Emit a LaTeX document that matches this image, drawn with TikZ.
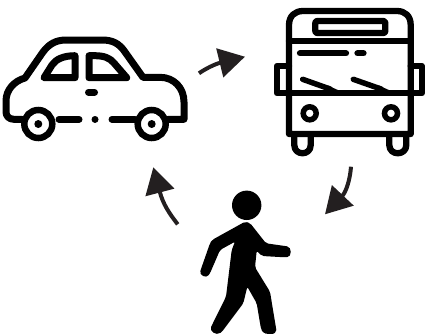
\documentclass[tikz,border=0pt]{standalone}
\usetikzlibrary{arrows.meta}
\definecolor{ink}{HTML}{000000}
\definecolor{flow}{HTML}{231F20}

\begin{document}
\begin{tikzpicture}[
    x=1pt, y=-1pt,
    icon/.style={draw=ink, line width=7pt, line cap=round, line join=round},
    busline/.style={draw=ink, line width=6.3pt, line cap=round, line join=round},
    wheel/.style={draw=ink, fill=white, line width=6.5pt},
    lamp/.style={draw=ink, fill=white, line width=5.5pt},
    solid ink/.style={fill=ink, draw=none},
    flowarrow/.style={-{Triangle[length=26pt, width=29pt]}, draw=flow, line width=4pt},
  ]
  \useasboundingbox (0,0) rectangle (427,333);

  % the car
  \draw[icon] (22,119.3) -- (14,119.3) .. controls (9,119.3) and (6,116) .. (6,112)
        -- (6,101) .. controls (6,90) and (14,81) .. (25,78)
        -- (43,52) .. controls (49,44) and (56,40) .. (66,40)
        -- (102,40) .. controls (112,40) and (119,43) .. (125,52)
        -- (143,77.3) -- (160,77.3) .. controls (174,77.3) and (184,88) .. (184,102)
        -- (184,119.3) -- (168,119.3);
  \draw[icon] (44,77.7) -- (52,65) .. controls (56,59) and (64,55.7) .. (75,55.7)
        -- (75,77.7) -- cycle;
  \draw[icon] (89,77.7) -- (89,55.7) -- (95,55.7) .. controls (104,55.7) and (110,58) .. (114,63)
        -- (126.7,77.7) -- cycle;
  \draw[icon] (88.5,92.3) -- (94.5,92.3);
  \draw[icon] (59,119.3) -- (79,119.3);
  \draw[icon] (95,119.3) -- (95.01,119.3);
  \draw[icon] (112,119.3) -- (135,119.3);
  \draw[wheel] (38.3,124) circle (14pt);
  \draw[wheel] (151.7,124) circle (14pt);
  \fill[solid ink] (38.3,124) circle (4pt);
  \fill[solid ink] (151.7,124) circle (4pt);

  % the bus
  \draw[busline] (294.3,134) -- (294.3,145) .. controls (294.3,156) and (310.7,156) .. (310.7,145) -- (310.7,134);
  \draw[busline] (389.3,134) -- (389.3,145) .. controls (389.3,156) and (406.3,156) .. (406.3,145) -- (406.3,134);
  \draw[busline, fill=white] (289,134) -- (289,25) .. controls (289,16) and (295,11) .. (303,11)
        -- (397,11) .. controls (405,11) and (410.7,16) .. (410.7,25) -- (410.7,134) -- cycle;
  \draw[busline, rounded corners=2pt] (315.3,21) rectangle (385.3,33);
  \draw[busline] (289,40.7) -- (410.7,40.7);
  \draw[busline] (300,53.3) -- (346,53.3);
  \draw[busline] (357.5,53.3) -- (363.5,53.3);
  \draw[busline] (289,66) -- (277,66) -- (277,93.3) -- (421.7,93.3) -- (421.7,66) -- (410.7,66);
  \draw[busline, line width=5.5pt] (302.7,79.3) -- (330,89);
  \draw[busline, line width=5.5pt] (353.3,79.3) -- (381,89);
  \fill[solid ink] (328,85.5) -- (345,93.3) -- (328,93.3) -- cycle;
  \fill[solid ink] (379,85.5) -- (396,93.3) -- (379,93.3) -- cycle;
  \draw[lamp] (309.7,113.3) circle (6.5pt);
  \draw[lamp] (391,113.3) circle (6.5pt);

  % the walker
  \fill[solid ink] (246.7,205.3) circle (14.7pt);
  \fill[solid ink, rounded corners=2pt] (245,221.7) -- (250,223) -- (266,243.3) -- (285,246)
        .. controls (292,247) and (292,257) .. (285,257.3) -- (262,256) -- (256.7,250.7)
        -- (255,267.3) -- (270,291.7) -- (276,328) .. controls (277,335) and (265,336) .. (261,329)
        -- (256.7,303.3) -- (247.3,286.7) -- (243.3,303.3) -- (222,331.7)
        .. controls (216,336) and (209,331) .. (212,325) -- (226,296.7) -- (231.7,250) -- (235,241.7)
        -- (220,250) -- (210,273.3) .. controls (206,279) and (199,275) .. (201,269)
        -- (210,243.3) -- (212,240) -- cycle;

  % the three arrows between them
  \coordinate (carout) at (199,73.3);
  \coordinate (busin) at (245,56.7);
  \coordinate (busout) at (351,166.7);
  \coordinate (walkerin) at (325,214.3);
  \coordinate (walkerout) at (177.7,224.3);
  \coordinate (carin) at (153.3,167.3);
  \draw[flowarrow] (carout) .. controls (205,69) and (215,64) .. (busin);
  \draw[flowarrow] (busout) .. controls (350,180) and (346,192) .. (walkerin);
  \draw[flowarrow] (walkerout) .. controls (169,213) and (163,204) .. (carin);
\end{tikzpicture}
\end{document}
